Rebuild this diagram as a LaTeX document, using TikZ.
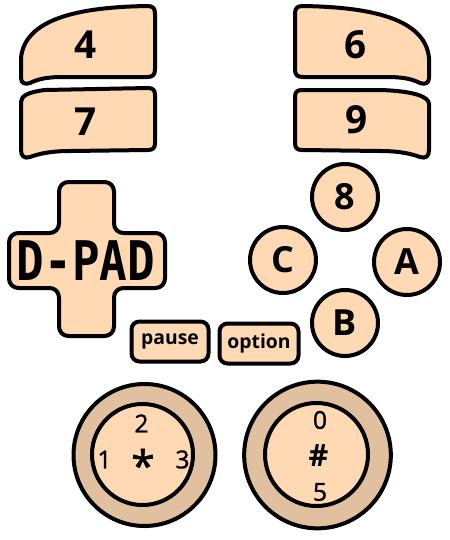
\documentclass[tikz,border=0pt]{standalone}
\usepackage{fontspec}
\setmainfont{Open Sans}
\newfontfamily\padfont{DejaVu Sans Mono}
\newfontfamily\semifont{Open Sans}[FakeBold=1.2]
\usetikzlibrary{shadows}
\definecolor{peach}{HTML}{FFD9B3}
\definecolor{ringtan}{HTML}{E0C09F}

\begin{document}
\begin{tikzpicture}[x=0.75pt, y=-0.75pt, line width=3pt, line join=round,
    keycap/.style={draw=black, fill=peach, drop shadow={shadow xshift=0pt, shadow yshift=-1.2pt, opacity=0.3}},
    keylabel/.style={font=\fontsize{29}{31}\selectfont\bfseries},
    roundkey/.style={keycap, circle, minimum size=49.5pt, inner sep=0pt, font=\fontsize{27}{29}\selectfont\bfseries},
    smallkey/.style={keycap, rounded corners=6pt, inner sep=0pt, minimum height=30pt, font=\fontsize{14.5}{16}\selectfont\bfseries},
    stick/.style={keycap, circle, inner sep=0pt},
    sticklabel/.style={font=\semifont\fontsize{18.5}{20}\selectfont}]

    \useasboundingbox (0,0) rectangle (450,540);

    % Draw the shoulder keys on the left
    \draw[keycap] (30,83) .. controls (40,78) and (50,77) .. (65,77) -- (147,77) .. controls (153,77) and (155,75) .. (155,69) -- (155,14) .. controls (155,8) and (153,6) .. (147,6) .. controls (90,7) and (25,15) .. (21,58) -- (21,78) .. controls (21,83) and (25,85) .. (30,83) -- cycle;
    \node[keylabel] (k4) at (86,45) {4};

    \draw[keycap] (21,150) -- (21,102) .. controls (21,96) and (28,92) .. (45,90) -- (148,88) .. controls (153,88) and (155,90) .. (155,95) -- (155,143) .. controls (155,148) and (153,150) .. (148,150) -- (70,151) .. controls (50,151) and (38,154) .. (30,157) .. controls (24,159) and (21,156) .. (21,150) -- cycle;
    \node[keylabel] (k7) at (86,122) {7};

    % Draw the shoulder keys on the right
    \draw[keycap] (450-30,83) .. controls (450-40,78) and (450-50,77) .. (450-65,77) -- (450-147,77) .. controls (450-153,77) and (450-155,75) .. (450-155,69) -- (450-155,14) .. controls (450-155,8) and (450-153,6) .. (450-147,6) .. controls (450-90,7) and (450-25,15) .. (450-21,58) -- (450-21,78) .. controls (450-21,83) and (450-25,85) .. (450-30,83) -- cycle;
    \node[keylabel] (k6) at (356,45) {6};

    \draw[keycap] (450-21,150) -- (450-21,104) .. controls (450-21,97) and (450-35,91) .. (450-70,90) -- (302,90) .. controls (297,90) and (295,92) .. (295,97) -- (295,143) .. controls (295,148) and (297,150) .. (302,150) -- (380,151) .. controls (400,151) and (412,154) .. (420,157) .. controls (426,159) and (450-21,156) .. (450-21,150) -- cycle;
    \node[keylabel] (k9) at (357,120) {9};

    % Draw the cross pad
    \draw[keycap, rounded corners=7pt] (59,182) -- (114,182) -- (114,233) -- (165,233) -- (165,288) -- (114,288) -- (114,336) -- (59,336) -- (59,288) -- (9,288) -- (9,233) -- (59,233) -- cycle;
    \node (dpad) at (86,261) {\padfont\bfseries\fontsize{41}{43}\selectfont\scalebox{0.84}[1]{D-PAD}};

    % Draw the four round keys
    \node[roundkey] (b8) at (345,197) {8};
    \node[roundkey] (bC) at (283,260) {C};
    \node[roundkey] (bA) at (407,262) {A};
    \node[roundkey] (bB) at (345,323) {B};

    % Draw the small keys
    \node[smallkey, minimum width=57.75pt] (pause) at (170,341.5) {pause};
    \node[smallkey, minimum width=59.25pt] (option) at (259,343.5) {option};

    % Draw the left stick
    \node[stick, fill=ringtan, minimum size=106.5pt] (lring) at (144.5,455) {};
    \node[stick, fill=peach, minimum size=75.75pt] (lpad) at (142.5,454.5) {};
    \node[sticklabel] (l2) at (141.5,423.5) {2};
    \node[sticklabel] (l1) at (104.5,459.5) {1};
    \node[sticklabel] (l3) at (182.5,459.5) {3};
    \node[font=\semifont\fontsize{32}{34}\selectfont] (lstar) at (143,465) {*};

    % Draw the right stick
    \node[stick, fill=ringtan, minimum size=110pt] (rring) at (317.5,455) {};
    \node[stick, fill=peach, minimum size=77.25pt] (rpad) at (316.5,454.5) {};
    \node[sticklabel] (r0) at (320,420) {0};
    \node[font=\fontsize{23}{25}\selectfont\bfseries] (rhash) at (318.5,456) {\#};
    \node[sticklabel] (r5) at (320,492) {5};

\end{tikzpicture}
\end{document}
